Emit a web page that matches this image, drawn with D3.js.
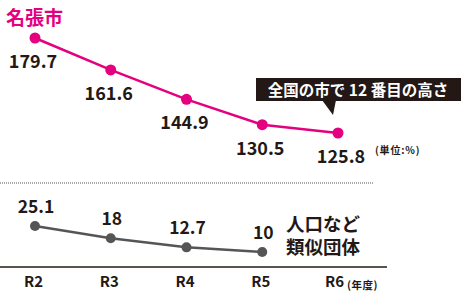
<!DOCTYPE html>
<html>
<head>
<meta charset="utf-8">
<script src="https://cdn.jsdelivr.net/npm/d3@7"></script>
<style>
  body { margin: 0; background: #fff; }
  text { font-family: "Noto Sans CJK JP", "Noto Sans", sans-serif; font-weight: 700; }
</style>
</head>
<body>
<div id="chart"></div>
<script>
// data
const years = ["R2", "R3", "R4", "R5", "R6"];
const nabariValues = [179.7, 161.6, 144.9, 130.5, 125.8];
const similarValues = [25.1, 18, 12.7, 10];
const title = "名張市";
const calloutText = "全国の市で 12 番目の高さ";
const similarLabel = ["人口など", "類似団体"];

const width = 466;
const height = 302;
const magenta = "#e4007f";
const grey = "#555";
const ink = "#231815";

const svg = d3.select("#chart")
  .append("svg")
  .attr("width", width)
  .attr("height", height);

//X scale shared by both panels
const x = d3.scalePoint()
  .domain(years)
  .range([35, 338]);

//Y scales: upper panel for 名張市, lower for 類似団体 (broken axis)
const yTop = d3.scaleLinear()
  .domain([125.8, 179.7])
  .range([133, 38]);
const yBottom = d3.scaleLinear()
  .domain([10, 25.1])
  .range([252, 226]);

//Title
svg.append("text")
  .attr("x", 6)
  .attr("y", 25)
  .attr("fill", magenta)
  .style("font-size", "19px")
  .text(title);

//Upper line
const nabari = years.map((d, i) => ({ year: d, value: nabariValues[i] }));
const lineTop = d3.line()
  .x(d => x(d.year))
  .y(d => yTop(d.value));
svg.append("path")
  .datum(nabari)
  .attr("fill", "none")
  .attr("stroke", magenta)
  .attr("stroke-width", 2.5)
  .attr("d", lineTop);
svg.selectAll(".dotTop")
  .data(nabari)
  .join("circle")
  .attr("class", "dotTop")
  .attr("cx", d => x(d.year))
  .attr("cy", d => yTop(d.value))
  .attr("r", 5.5)
  .attr("fill", magenta);
svg.selectAll(".lblTop")
  .data(nabari)
  .join("text")
  .attr("class", "lblTop")
  .attr("x", (d, i) => x(d.year) - (i === 0 ? 2 : i === 4 ? -3 : 2))
  .attr("y", d => yTop(d.value) + 30)
  .attr("text-anchor", "middle")
  .attr("fill", ink)
  .style("font-size", "18px")
  .text(d => d.value.toFixed(1));

//Unit
svg.append("text")
  .attr("x", 375)
  .attr("y", 154)
  .attr("fill", ink)
  .style("font-size", "10px")
  .style("letter-spacing", "0.8px")
  .text("(単位:%)");

//Callout box
svg.append("rect")
  .attr("x", 256)
  .attr("y", 78)
  .attr("width", 205)
  .attr("height", 23)
  .attr("fill", ink);
svg.append("path")
  .attr("d", "M322,100 L336,100 L333,115 Z")
  .attr("fill", ink);
svg.append("text")
  .attr("x", 358)
  .attr("y", 95.5)
  .attr("text-anchor", "middle")
  .attr("fill", "#fff")
  .style("font-size", "15.5px")
  .text(calloutText);

//Dotted break line
svg.append("line")
  .attr("x1", 0)
  .attr("x2", 374)
  .attr("y1", 183)
  .attr("y2", 183)
  .attr("stroke", "#aaa")
  .attr("stroke-width", 2)
  .attr("stroke-dasharray", "1,1");

//Lower line
const similar = similarValues.map((v, i) => ({ year: years[i], value: v }));
const lineBottom = d3.line()
  .x(d => x(d.year))
  .y(d => yBottom(d.value));
svg.append("path")
  .datum(similar)
  .attr("fill", "none")
  .attr("stroke", grey)
  .attr("stroke-width", 2.5)
  .attr("d", lineBottom);
svg.selectAll(".dotBottom")
  .data(similar)
  .join("circle")
  .attr("class", "dotBottom")
  .attr("cx", d => x(d.year))
  .attr("cy", d => yBottom(d.value))
  .attr("r", 5)
  .attr("fill", grey);
svg.selectAll(".lblBottom")
  .data(similar)
  .join("text")
  .attr("class", "lblBottom")
  .attr("x", d => x(d.year) + 1)
  .attr("y", d => yBottom(d.value) - 13)
  .attr("text-anchor", "middle")
  .attr("fill", ink)
  .style("font-size", "17.5px")
  .text(d => d.value);

//Series label for the lower line, two lines in one text
svg.append("text")
  .attr("fill", ink)
  .style("font-size", "18.5px")
  .selectAll("tspan")
  .data(similarLabel)
  .join("tspan")
  .attr("x", 286)
  .attr("y", (d, i) => 231 + i * 23)
  .text(d => d);

//X axis
const xAxis = svg.append("g")
  .attr("transform", "translate(0,267)")
  .call(d3.axisBottom(x).tickSize(0).tickPadding(9));
xAxis.select(".domain").remove();
xAxis.append("line")
  .attr("x1", 0)
  .attr("x2", 387)
  .attr("stroke", ink)
  .attr("stroke-width", 1.5);
xAxis.selectAll(".tick text")
  .attr("fill", ink)
  .attr("dx", (d, i) => i === 4 ? -4 : -2)
  .style("font-size", "15px")
  .style("font-family", "'Noto Sans CJK JP', sans-serif")
  .style("font-weight", 700);
svg.append("text")
  .attr("x", 347)
  .attr("y", 289)
  .attr("fill", ink)
  .style("font-size", "10.5px")
  .style("letter-spacing", "0.5px")
  .text("(年度)");
</script>
</body>
</html>
